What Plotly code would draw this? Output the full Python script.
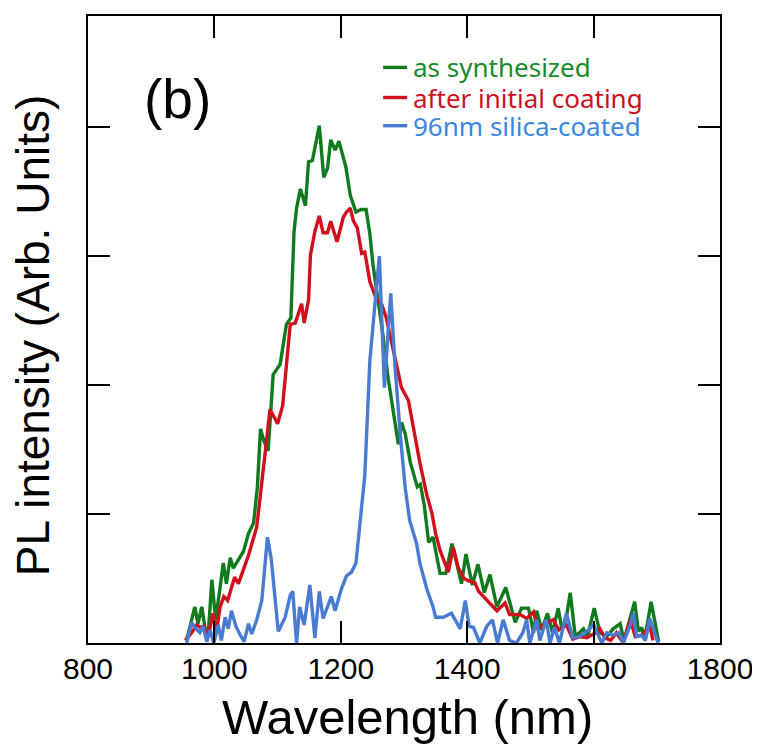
import plotly.graph_objects as go

# ---- data (y in units of the y-tick spacing) ----
green_wl = [956, 969, 974, 980, 985, 990, 996, 1002, 1009, 1014, 1019, 1025, 1030, 1038, 1046, 1054,
            1062, 1068, 1073, 1078, 1085, 1093, 1104, 1114, 1121, 1126, 1130, 1136, 1144, 1149, 1155,
            1166, 1173, 1179, 1184, 1191, 1197, 1208, 1215, 1224, 1232, 1240, 1246, 1251, 1257, 1265,
            1275, 1283, 1291, 1296, 1302, 1310, 1321, 1326, 1332, 1339, 1346, 1357, 1366, 1376, 1391,
            1398, 1408, 1417, 1427, 1436, 1447, 1461, 1476, 1486, 1497, 1505, 1510, 1518, 1527, 1535,
            1544, 1550, 1557, 1563, 1571, 1584, 1590, 1601, 1610, 1621, 1631, 1642, 1648, 1665, 1671,
            1676, 1681, 1691, 1703]
green_val = [0.02, 0.28, 0.15, 0.28, 0.12, 0.05, 0.49, 0.18, 0.43, 0.62, 0.46, 0.66, 0.58, 0.64, 0.71, 0.85,
             0.93, 1.21, 1.66, 1.57, 1.49, 2.08, 2.16, 2.47, 2.52, 3.19, 3.37, 3.52, 3.39, 3.73, 3.74,
             4.01, 3.61, 3.68, 3.90, 3.82, 3.89, 3.69, 3.47, 3.34, 3.36, 3.36, 3.17, 2.93, 2.72, 2.45,
             2.05, 1.80, 1.54, 1.71, 1.62, 1.40, 1.21, 1.23, 1.07, 0.78, 0.82, 0.54, 0.54, 0.77, 0.46,
             0.69, 0.45, 0.61, 0.39, 0.53, 0.28, 0.43, 0.16, 0.27, 0.27, 0.08, 0.25, 0.10, 0.23, 0.08,
             0.27, 0.10, 0.20, 0.39, 0.05, 0.11, 0.04, 0.27, 0.08, 0.05, 0.11, 0.15, 0.02, 0.32, 0.09,
             0.12, 0.03, 0.32, 0.01]

red_wl = [954, 964, 972, 978, 983, 990, 998, 1003, 1009, 1015, 1021, 1027, 1032, 1038, 1045, 1054,
          1067, 1074, 1080, 1088, 1100, 1108, 1120, 1128, 1133, 1138, 1142, 1149, 1152, 1159, 1166,
          1172, 1179, 1184, 1194, 1204, 1209, 1215, 1220, 1226, 1233, 1238, 1246, 1256, 1265, 1272,
          1284, 1296, 1307, 1317, 1325, 1336, 1344, 1350, 1357, 1370, 1378, 1386, 1395, 1403, 1412,
          1418, 1431, 1447, 1460, 1467, 1484, 1494, 1505, 1512, 1520, 1536, 1545, 1557, 1567, 1578,
          1589, 1600, 1610, 1618, 1627, 1636, 1647, 1658, 1666, 1676, 1689, 1694]
red_val = [0.02, 0.08, 0.14, 0.12, 0.13, 0.05, 0.23, 0.08, 0.28, 0.36, 0.33, 0.43, 0.51, 0.46, 0.55, 0.68,
           0.90, 1.18, 1.46, 1.81, 1.70, 1.84, 2.47, 2.48, 2.55, 2.63, 2.48, 2.66, 3.01, 3.19, 3.31,
           3.18, 3.18, 3.27, 3.11, 3.30, 3.34, 3.37, 3.27, 3.22, 3.02, 3.03, 2.80, 2.67, 2.62, 2.52,
           2.25, 1.98, 1.88, 1.62, 1.40, 1.15, 1.01, 0.85, 0.72, 0.55, 0.74, 0.58, 0.50, 0.48, 0.47,
           0.40, 0.33, 0.25, 0.31, 0.22, 0.22, 0.19, 0.24, 0.11, 0.14, 0.18, 0.10, 0.14, 0.03, 0.05,
           0.04, 0.07, 0.11, 0.04, 0.02, 0.08, 0.00, 0.18, 0.05, 0.06, 0.13, 0.02]

blue_wl = [956, 964, 969, 977, 982, 988, 993, 999, 1006, 1011, 1017, 1022, 1027, 1034, 1040, 1047,
           1054, 1059, 1067, 1075, 1084, 1090, 1101, 1112, 1120, 1124, 1130, 1135, 1142, 1151, 1159,
           1166, 1172, 1185, 1191, 1201, 1209, 1217, 1224, 1230, 1238, 1246, 1254, 1261, 1269, 1279,
           1286, 1294, 1302, 1309, 1320, 1325, 1336, 1346, 1350, 1362, 1375, 1389, 1397, 1403, 1410,
           1420, 1431, 1440, 1448, 1457, 1467, 1478, 1488, 1494, 1499, 1510, 1515, 1525, 1531, 1538,
           1546, 1557, 1567, 1578, 1589, 1600, 1613, 1621, 1630, 1640, 1647, 1658, 1663, 1668, 1676,
           1682, 1689, 1694, 1702]
blue_val = [0.00, 0.16, 0.12, 0.08, 0.13, 0.01, 0.10, 0.00, 0.14, 0.02, 0.20, 0.11, 0.25, 0.13, 0.07, 0.01,
            0.15, 0.07, 0.18, 0.33, 0.82, 0.65, 0.09, 0.20, 0.37, 0.40, 0.00, 0.28, 0.14, 0.45, 0.04,
            0.40, 0.19, 0.36, 0.25, 0.42, 0.52, 0.55, 0.62, 0.90, 1.30, 2.19, 2.65, 3.00, 1.98, 2.71,
            2.13, 1.62, 1.20, 0.95, 0.77, 0.62, 0.42, 0.28, 0.20, 0.20, 0.23, 0.11, 0.33, 0.13, 0.12,
            0.00, 0.13, 0.18, 0.00, 0.18, 0.02, 0.00, 0.08, 0.18, 0.00, 0.18, 0.02, 0.18, 0.00, 0.12,
            0.00, 0.23, 0.04, 0.05, 0.09, 0.14, 0.00, 0.08, 0.06, 0.08, 0.00, 0.14, 0.23, 0.05, 0.06,
            0.02, 0.19, 0.11, 0.00]

series_names = ["as synthesized", "after initial coating", "96nm silica-coated"]
line_colors = ["#127a1e", "#d20f1c", "#4a7bd2"]
text_colors = ["#1a8a2a", "#d0101c", "#3a86e0"]

x_tick_vals = [800, 1000, 1200, 1400, 1600, 1800]
x_tick_text = ["800", "1000", "1200", "1400", "1600", "1800"]
y_tick_vals = [1, 2, 3, 4]

fig = go.Figure()
for wl, val, name, col in zip([green_wl, red_wl, blue_wl], [green_val, red_val, blue_val],
                              series_names, line_colors):
    fig.add_trace(go.Scatter(x=wl, y=val, mode="lines", name=name,
                             line=dict(color=col, width=3.4), showlegend=False))

axis_common = dict(showline=True, linecolor="black", linewidth=2, mirror="ticks",
                   ticks="inside", ticklen=22, tickwidth=2, tickcolor="black",
                   showgrid=False, zeroline=False)

fig.update_xaxes(range=[800, 1800], tickvals=x_tick_vals, ticktext=x_tick_text,
                 tickfont=dict(family="Liberation Sans, Arial", size=30, color="black"),
                 ticklabelstandoff=-2, **axis_common)
fig.update_yaxes(range=[0, 4.86], tickvals=y_tick_vals, showticklabels=False, **axis_common)

# legend (coloured text + short line)
leg_y = [0.918, 0.870, 0.825]
for name, lc, tc, yy in zip(series_names, line_colors, text_colors, leg_y):
    fig.add_shape(type="line", xref="paper", yref="paper", x0=0.467, x1=0.505, y0=yy, y1=yy,
                  line=dict(color=lc, width=3.4))
    fig.add_annotation(xref="paper", yref="paper", x=0.511, y=yy, text=name, showarrow=False,
                       xanchor="left", yanchor="middle",
                       font=dict(family="Noto Sans", size=26, color=tc))

fig.add_annotation(xref="paper", yref="paper", x=0.142, y=0.868, text="(b)", showarrow=False,
                   xanchor="center", yanchor="middle",
                   font=dict(family="Liberation Sans, Arial", size=55, color="black"))

fig.add_annotation(xref="paper", yref="paper", x=0.505, y=-0.118, text="Wavelength (nm)",
                   showarrow=False, xanchor="center", yanchor="middle",
                   font=dict(family="Liberation Sans, Arial", size=49, color="black"))
fig.add_annotation(xref="paper", yref="paper", x=-0.088, y=0.49, text="PL intensity (Arb. Units)",
                   showarrow=False, xanchor="center", yanchor="middle", textangle=-90,
                   font=dict(family="Liberation Sans, Arial", size=46, color="black"))

# the page body has an 8px default margin, so the figure is made 8px smaller
fig.update_layout(width=752, height=746, margin=dict(l=80, r=40, t=6, b=111),
                  paper_bgcolor="white", plot_bgcolor="white")

fig.write_html("out.html")
